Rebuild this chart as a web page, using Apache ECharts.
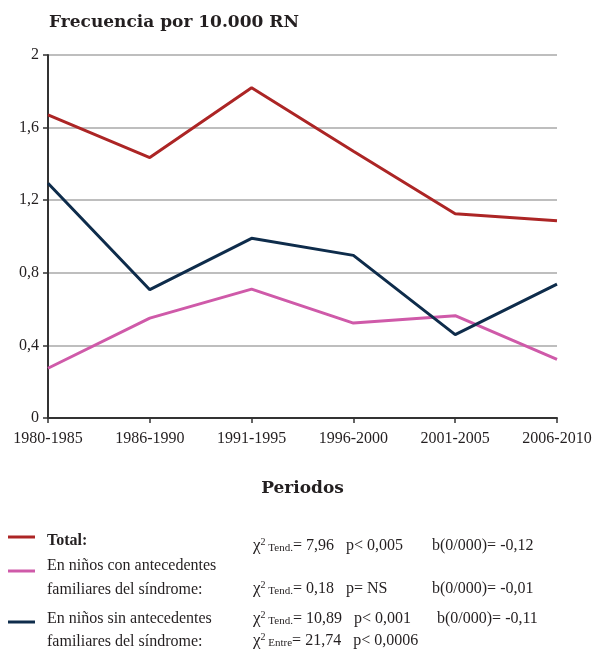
<!DOCTYPE html>
<html>
<head>
<meta charset="utf-8">
<script src="https://cdn.jsdelivr.net/npm/echarts@6/dist/echarts.min.js"></script>
<style>html,body{margin:0;padding:0;background:#fff}#c{width:598px;height:649px}</style>
</head>
<body>
<div id="c"></div>
<script>
var categories = ['1980-1985','1986-1990','1991-1995','1996-2000','2001-2005','2006-2010'];
var totalValues = [1.67, 1.435, 1.82, 1.47, 1.125, 1.087];
var conValues = [0.274, 0.55, 0.71, 0.523, 0.564, 0.323];
var sinValues = [1.293, 0.707, 0.99, 0.896, 0.459, 0.738];
var yTicks = [0, 0.4, 0.8, 1.2, 1.6, 2];
var seriesNames = ['Total:', 'En niños con antecedentes\nfamiliares del síndrome:', 'En niños sin antecedentes\nfamiliares del síndrome:'];
var colors = ['#ac2525', '#cf5aa9', '#0e2c4b'];

var serif = '"Liberation Serif", "Times New Roman", serif';
var chart = echarts.init(document.getElementById('c'));

function lineSeries(name, data, color) {
  return { name: name, type: 'line', data: data, symbol: 'none', smooth: false,
    lineStyle: { color: color, width: 3 }, itemStyle: { color: color } };
}

function statText(y, parts) {
  return { type: 'text', left: 253, top: y, style: {
    text: parts, font: '16px ' + serif, fill: '#231f20',
    rich: {
      sup: { fontSize: 10, fontFamily: serif, fill: '#231f20', verticalAlign: 'top', padding: [0, 0, 8, 0] },
      sub: { fontSize: 11, fontFamily: serif, fill: '#231f20', padding: [5, 0, 0, 0] },
      n: { fontSize: 16, fontFamily: serif, fill: '#231f20' },
      c: { fontSize: 17, fontFamily: serif, fill: '#231f20' }
    } } };
}

chart.setOption({
  animation: false,
  title: { text: 'Frecuencia por 10.000 RN', left: 44, top: 9,
    textStyle: { fontFamily: '"DejaVu Serif", serif', fontWeight: 'bold', fontSize: 17, color: '#231f20' } },
  grid: { left: 48, right: 41, top: 55, bottom: 231, containLabel: false },
  xAxis: { type: 'category', data: categories, boundaryGap: false,
    name: 'Periodos', nameLocation: 'middle', nameGap: 62,
    nameTextStyle: { fontFamily: '"DejaVu Serif", serif', fontWeight: 'bold', fontSize: 17, color: '#231f20' },
    axisLine: { lineStyle: { color: '#333', width: 2 } },
    axisTick: { show: true, alignWithLabel: true, length: 5, lineStyle: { color: '#333', width: 1.5 } },
    axisLabel: { fontFamily: serif, fontSize: 16, color: '#231f20', margin: 13, interval: 0 },
    splitLine: { show: false } },
  yAxis: { type: 'value', min: yTicks[0], max: yTicks[yTicks.length - 1], interval: 0.4,
    axisLine: { show: true, lineStyle: { color: '#333', width: 2 } },
    axisTick: { show: true, length: 5, lineStyle: { color: '#333', width: 1.5 } },
    axisLabel: { fontFamily: serif, fontSize: 16, color: '#231f20', margin: 9,
      formatter: function (v) { return String(Math.round(v * 10) / 10).replace('.', ','); } },
    splitLine: { show: true, lineStyle: { color: '#a8a8a8', width: 1.5 } } },
  series: [
    lineSeries(seriesNames[0], totalValues, colors[0]),
    lineSeries(seriesNames[1], conValues, colors[1]),
    lineSeries(seriesNames[2], sinValues, colors[2])
  ],
  graphic: [
    { type: 'line', shape: { x1: 8, y1: 537, x2: 35, y2: 537 }, style: { stroke: colors[0], lineWidth: 3 } },
    { type: 'line', shape: { x1: 8, y1: 571, x2: 35, y2: 571 }, style: { stroke: colors[1], lineWidth: 3 } },
    { type: 'line', shape: { x1: 8, y1: 622, x2: 35, y2: 622 }, style: { stroke: colors[2], lineWidth: 3 } },
    { type: 'text', left: 47, top: 533, style: { text: seriesNames[0], font: 'bold 16px ' + serif, fill: '#231f20' } },
    { type: 'text', left: 47, top: 554, style: { text: seriesNames[1], font: '16px ' + serif, fill: '#231f20', lineHeight: 24 } },
    { type: 'text', left: 47, top: 607, style: { text: seriesNames[2], font: '16px ' + serif, fill: '#231f20', lineHeight: 23 } },
    statText(537, '{c|χ}{sup|2}{sub| Tend.}{n|= 7,96   p< 0,005}'),
    { type: 'text', left: 432, top: 538, style: { text: 'b(0/000)= -0,12', font: '16px ' + serif, fill: '#231f20' } },
    statText(580, '{c|χ}{sup|2}{sub| Tend.}{n|= 0,18   p= NS}'),
    { type: 'text', left: 432, top: 581, style: { text: 'b(0/000)= -0,01', font: '16px ' + serif, fill: '#231f20' } },
    statText(610, '{c|χ}{sup|2}{sub| Tend.}{n|= 10,89   p< 0,001}'),
    { type: 'text', left: 437, top: 611, style: { text: 'b(0/000)= -0,11', font: '16px ' + serif, fill: '#231f20' } },
    statText(632, '{c|χ}{sup|2}{sub| Entre}{n|= 21,74   p< 0,0006}')
  ]
});
</script>
</body>
</html>
